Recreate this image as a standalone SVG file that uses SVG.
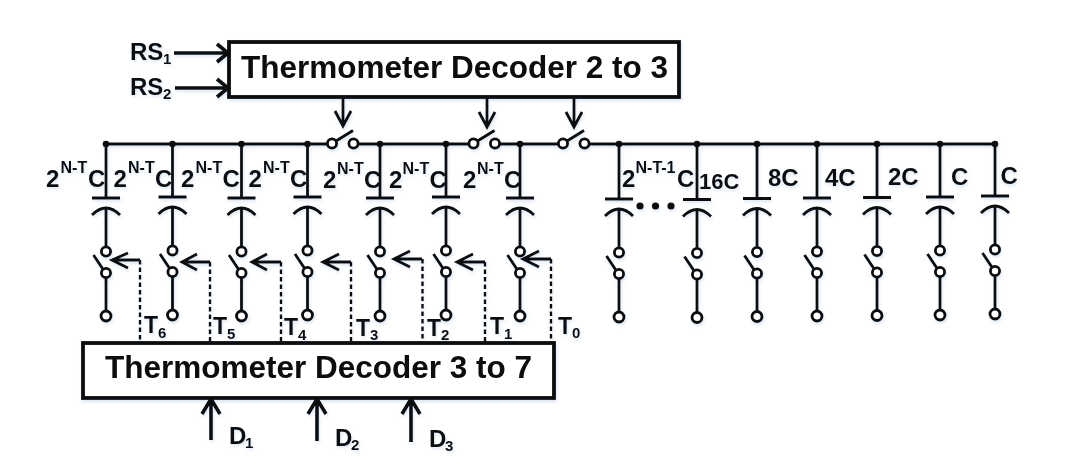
<svg xmlns="http://www.w3.org/2000/svg" width="1072" height="473" viewBox="0 0 1072 473">
<style>
text{font-family:"Liberation Sans",Arial,sans-serif;font-weight:bold;fill:#0a0a0a}
.w{stroke:#0a0a0a;stroke-width:2.8;fill:none}
.t{stroke:#0a0a0a;stroke-width:3.6;fill:none}
.d{stroke:#0a0a0a;stroke-width:2.4;stroke-dasharray:4.5 3;fill:none}
.o{stroke:#0a0a0a;stroke-width:2.8;fill:#fff}
.b{stroke:#0a0a0a;stroke-width:3.8;fill:#fff}
.l{font-size:24px}
.m{font-size:22px}
.s{font-size:16px}
.u{font-size:15px}
.T{font-size:23px}
.h{font-size:31.5px}
</style>
<defs>
<filter id="glow" x="-2%" y="-2%" width="104%" height="104%"><feDropShadow dx="1" dy="2" stdDeviation="1.500" flood-color="#5b8fc9" flood-opacity="0.220"/></filter>
<g id="cell">
<path class="w" d="M-14 0H14M-14 17Q0 3 14 17M0 10V48M-12.500 57L-2.500 72M0 79.500V113"/>
<circle class="o" cx="0" cy="53.500" r="4.600"/>
<circle class="o" cx="0" cy="75" r="4.600"/>
<circle class="o" cx="0" cy="118" r="5"/>
</g>
<g id="sw">
<path class="w" d="M4 -2.500L21 -13"/>
<circle class="o" cx="0" cy="0" r="4.600"/>
<circle class="o" cx="21.500" cy="0" r="4.600"/>
</g>
<circle id="dot" cx="0" cy="0" r="3.300" fill="#0a0a0a"/>
</defs>
<g filter="url(#glow)">
<g id="connectors">
<path class="w" d="M106 144H328M357.500 144H469M499.500 144H559M588.500 144H995"/>
<path class="t" d="M174 53H227M217 44L228 53L217 62M175 88H227M217 79L228 88L217 97"/>
<path class="w" d="M343 97V125M335 111L343 126L351 111M487 97V126M479 112L487 127L495 112M574 97V126M566 112L574 127L582 112"/>
<path class="t" d="M211 440V400M202 414L211 399L220 414M317 441V400M308 414L317 399L326 414M411 442V400M402 414L411 399L420 414"/>
<path class="w" d="M112 260H140M128 253L112 260L128 268M182 262H210M197 254L182 262L197 270M252 262H281M267 254L252 262L267 270M323 262H351M339 254L323 262L339 270M394 259H422M410 251L394 259L410 267M457 262H485M473 254L457 262L473 270M523 259H551M539 251L523 259L539 267"/>
<path class="d" d="M140 260V342M210 262V342M281 262V342M351 262V342M422.500 259V342M485 262V342M551 259V342"/>
</g>

<g id="switch-s1"><use href="#sw" transform="translate(332,143.500)"/></g>
<g id="switch-s2"><use href="#sw" transform="translate(473.500,143.500)"/></g>
<g id="switch-s3"><use href="#sw" transform="translate(563,143.500)"/></g>

<g id="col1"><path class="w" d="M106 144V198"/><use href="#dot" x="106" y="144"/><use href="#cell" transform="translate(106,198)"/></g>
<g id="col2"><path class="w" d="M172.500 144V197"/><use href="#dot" x="172.500" y="144"/><use href="#cell" transform="translate(172.500,197)"/></g>
<g id="col3"><path class="w" d="M241.500 144V198"/><use href="#dot" x="241.500" y="144"/><use href="#cell" transform="translate(241.500,198)"/></g>
<g id="col4"><path class="w" d="M307.500 144V197"/><use href="#dot" x="307.500" y="144"/><use href="#cell" transform="translate(307.500,197)"/></g>
<g id="col5"><path class="w" d="M380 144V198"/><use href="#dot" x="380" y="144"/><use href="#cell" transform="translate(380,198)"/></g>
<g id="col6"><path class="w" d="M446 144V197"/><use href="#dot" x="446" y="144"/><use href="#cell" transform="translate(446,197)"/></g>
<g id="col7"><path class="w" d="M520 144V198"/><use href="#dot" x="520" y="144"/><use href="#cell" transform="translate(520,198)"/></g>
<g id="col8"><path class="w" d="M619 144V199"/><use href="#dot" x="619" y="144"/><use href="#cell" transform="translate(619,199)"/></g>
<g id="col9"><path class="w" d="M697 144V199.500"/><use href="#dot" x="697" y="144"/><use href="#cell" transform="translate(697,199.500)"/></g>
<g id="col10"><path class="w" d="M757 144V198.500"/><use href="#dot" x="757" y="144"/><use href="#cell" transform="translate(757,198.500)"/></g>
<g id="col11"><path class="w" d="M817 144V198"/><use href="#dot" x="817" y="144"/><use href="#cell" transform="translate(817,198)"/></g>
<g id="col12"><path class="w" d="M877 144V197.500"/><use href="#dot" x="877" y="144"/><use href="#cell" transform="translate(877,197.500)"/></g>
<g id="col13"><path class="w" d="M940 144V197"/><use href="#dot" x="940" y="144"/><use href="#cell" transform="translate(940,197)"/></g>
<g id="col14"><path class="w" d="M995 144V196"/><use href="#dot" x="995" y="144"/><use href="#cell" transform="translate(995,196)"/></g>

<g id="ellipsis" fill="#0a0a0a"><circle cx="640" cy="206" r="3.600"/><circle cx="655.500" cy="206" r="3.600"/><circle cx="671" cy="206" r="3.600"/></g>

<g id="decoder-top">
<rect class="b" x="229" y="42" width="450" height="55"/>
<text class="h" x="241" y="78">Thermometer Decoder 2 to 3</text>
</g>
<g id="decoder-bottom">
<rect class="b" x="83" y="343" width="471" height="55"/>
<text class="h" x="105" y="378">Thermometer Decoder 3 to 7</text>
</g>

<g id="labels">
<text class="l" x="130" y="60">RS</text><text class="u" x="163" y="64">1</text>
<text class="l" x="130" y="95">RS</text><text class="u" x="163" y="99">2</text>
<text class="l" x="229" y="444">D</text><text class="u" x="245" y="448">1</text>
<text class="l" x="335" y="446">D</text><text class="u" x="351" y="450">2</text>
<text class="l" x="429" y="447">D</text><text class="u" x="445" y="451">3</text>

<text class="l" x="46" y="187">2</text><text class="s" x="60.500" y="173">N-T</text><text class="l" x="88" y="187">C</text>
<text class="l" x="113.500" y="187">2</text><text class="s" x="128" y="173">N-T</text><text class="l" x="155" y="187">C</text>
<text class="l" x="181" y="187">2</text><text class="s" x="195.500" y="173">N-T</text><text class="l" x="222.500" y="187">C</text>
<text class="l" x="248.500" y="187">2</text><text class="s" x="263" y="173">N-T</text><text class="l" x="290" y="187">C</text>
<text class="l" x="323" y="188">2</text><text class="s" x="337" y="174">N-T</text><text class="l" x="364" y="188">C</text>
<text class="l" x="389" y="188">2</text><text class="s" x="402.500" y="174">N-T</text><text class="l" x="429.500" y="188">C</text>
<text class="l" x="463" y="188">2</text><text class="s" x="477" y="174">N-T</text><text class="l" x="504" y="188">C</text>
<text class="l" x="622" y="187">2</text><text class="s" x="635.500" y="173">N-T-1</text><text class="l" x="677" y="187">C</text>
<text class="m" x="699" y="189">16C</text>
<text class="l" x="768" y="186">8C</text>
<text class="l" x="825" y="186">4C</text>
<text class="l" x="888" y="185">2C</text>
<text class="l" x="951" y="185">C</text>
<text class="l" x="1000.500" y="184">C</text>

<text class="T" x="144" y="333">T</text><text class="u" x="158" y="338">6</text>
<text class="T" x="213" y="334">T</text><text class="u" x="227" y="339">5</text>
<text class="T" x="284" y="335">T</text><text class="u" x="298" y="340">4</text>
<text class="T" x="356" y="335.500">T</text><text class="u" x="370" y="340">3</text>
<text class="T" x="427" y="335.500">T</text><text class="u" x="441" y="340">2</text>
<text class="T" x="490" y="334">T</text><text class="u" x="504" y="339">1</text>
<text class="T" x="558" y="334">T</text><text class="u" x="572" y="338">0</text>
</g>
</g>
</svg>
